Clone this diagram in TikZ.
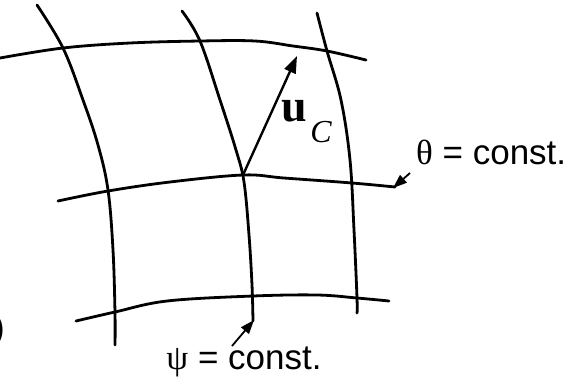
\documentclass[tikz,border=0pt]{standalone}
\usepackage{fontspec}
\setmainfont{Liberation Sans}
\newfontfamily\grk{Liberation Serif}
\newfontfamily\tms{Liberation Serif}
\usetikzlibrary{arrows.meta}
\begin{document}
\begin{tikzpicture}[x=1pt,y=-1pt,
  gridline/.style={line width=2.8pt, line cap=round, line join=round},
  ptr/.style={line width=1.8pt, -{Triangle[length=14pt,width=10pt]}},
  vec/.style={line width=2.4pt, -{Triangle[length=17pt,width=12pt]}},
  lbl/.style={inner sep=0pt, font=\fontsize{35}{40}\selectfont}]
\useasboundingbox (0,0) rectangle (568,376);
% theta = const. curves
\draw[gridline] plot[smooth,tension=0.6] coordinates {(0,58) (63,48) (130,43) (200,41) (255,41) (293,46) (327,51) (366,60)};
\draw[gridline] plot[smooth,tension=0.6] coordinates {(58,201) (108,191) (170,182) (243,175) (284,178) (352,183) (395,187)};
\draw[gridline] plot[smooth,tension=0.6] coordinates {(76,321) (115,312) (167,301) (253,296) (317,295) (357,298) (389,301)};
% psi = const. curves
\draw[gridline] plot[smooth,tension=0.6] coordinates {(37,5) (63,48) (83,100) (98,145) (108,190) (113,250) (115,313) (115,345)};
\draw[gridline] plot[smooth,tension=0.6] coordinates {(182,11) (200,41) (220,100) (236,150) (244,182) (249,235) (252,285) (253,321)};
\draw[gridline] plot[smooth,tension=0.6] coordinates {(317,13) (327,51) (341,100) (350,160) (354,230) (357,298) (357,313)};
% velocity vector
\coordinate (P) at (243,175);
\coordinate (Q) at (297,56);
\draw[vec] (P) -- (Q);
\node[inner sep=0pt, font=\tms\bfseries\fontsize{46}{50}\selectfont] (u) at (294,111) {u};
\node[inner sep=0pt, font=\tms\itshape\fontsize{32}{36}\selectfont] (C) at (321,132) {C};
% labels
\node[lbl, anchor=west] (th) at (416,152) {{\grk θ} = const.};
\coordinate (thend) at (393,188);
\draw[ptr] (th.west) ++(-6,21) coordinate (thstart) -- (thend);
\node[lbl] (ps) at (244,362) {{\grk ψ} = const.};
\coordinate (psend) at (254,320);
\draw[ptr] (232,346) coordinate (psstart) -- (psend);
\node[lbl, anchor=east] (par) at (5,330) {)};
\end{tikzpicture}
\end{document}
